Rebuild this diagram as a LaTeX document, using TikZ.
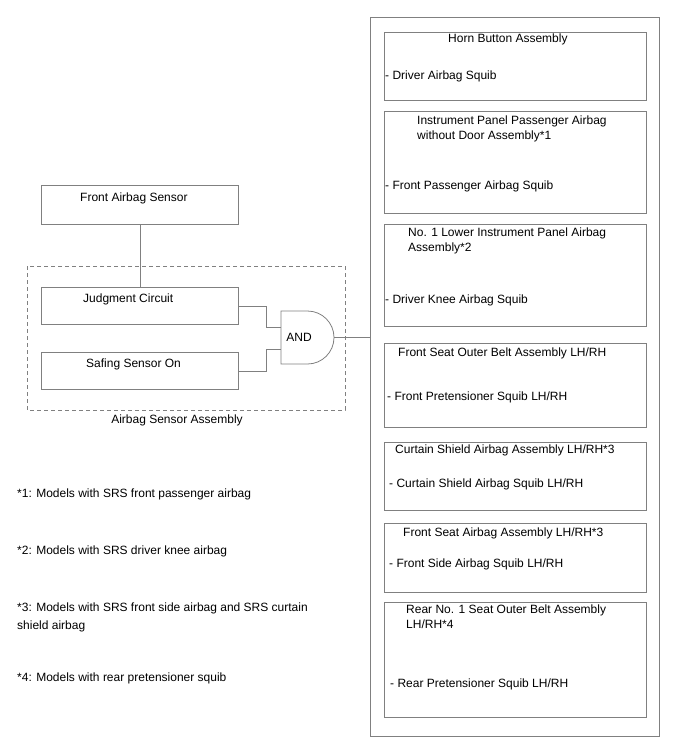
\documentclass[tikz,border=0pt]{standalone}
\usepackage{fontspec}
\setmainfont{Liberation Sans}
\usepackage{tikz}

\tikzset{
    box/.style={draw=gray, line width=0.8pt, anchor=north west, inner sep=0pt},
    wire/.style={draw=gray, line width=0.8pt},
    txt/.style={anchor=base west, inner sep=0pt, align=left, font=\fontsize{12}{15}\selectfont},
    note/.style={anchor=base west, inner sep=0pt, align=left, font=\fontsize{12}{18}\selectfont}
}

\begin{document}
\begin{tikzpicture}[x=1pt, y=-1pt]
    \useasboundingbox (0,0) rectangle (688,755);

    % Squib side
    \node[box, minimum width=289pt, minimum height=719pt] (squibs) at (370,17) {};

    \node[box, minimum width=262pt, minimum height=68pt] (horn) at (384,32) {};
    \node[txt] (horn title) at (448,42) {Horn Button Assembly};
    \node[txt] (horn squib) at (385,79) {- Driver Airbag Squib};

    \node[box, minimum width=262pt, minimum height=102pt] (pass) at (384,111) {};
    \node[txt] (pass title) at (417,139) {Instrument Panel Passenger Airbag\\without Door Assembly*1};
    \node[txt] (pass squib) at (385,189) {- Front Passenger Airbag Squib};

    \node[box, minimum width=262pt, minimum height=102pt] (knee) at (384,224) {};
    \node[txt] (knee title) at (408,251) {No. 1 Lower Instrument Panel Airbag\\Assembly*2};
    \node[txt] (knee squib) at (385,303) {- Driver Knee Airbag Squib};

    \node[box, minimum width=262pt, minimum height=84pt] (belt) at (384,343) {};
    \node[txt] (belt title) at (398,356) {Front Seat Outer Belt Assembly LH/RH};
    \node[txt] (belt squib) at (387,400) {- Front Pretensioner Squib LH/RH};

    \node[box, minimum width=262pt, minimum height=68pt] (curtain) at (384,442) {};
    \node[txt] (curtain title) at (395,453) {Curtain Shield Airbag Assembly LH/RH*3};
    \node[txt] (curtain squib) at (389,487) {- Curtain Shield Airbag Squib LH/RH};

    \node[box, minimum width=262pt, minimum height=69pt] (side) at (384,523) {};
    \node[txt] (side title) at (403,536) {Front Seat Airbag Assembly LH/RH*3};
    \node[txt] (side squib) at (389,567) {- Front Side Airbag Squib LH/RH};

    \node[box, minimum width=262pt, minimum height=115pt] (rear) at (384,602) {};
    \node[txt] (rear title) at (406,628) {Rear No. 1 Seat Outer Belt Assembly\\LH/RH*4};
    \node[txt] (rear squib) at (390,687) {- Rear Pretensioner Squib LH/RH};

    % Sensor side
    \node[box, minimum width=197pt, minimum height=39pt] (front) at (41,185) {};
    \node[txt] (front title) at (80,201) {Front Airbag Sensor};

    \draw[gray, line width=0.8pt, dash pattern=on 4pt off 3pt] (27,266) rectangle (345,410);
    \node[txt, anchor=base] (assy) at (177,423) {Airbag Sensor Assembly};

    \node[box, minimum width=197pt, minimum height=37pt] (judge) at (41,287) {};
    \node[txt] (judge title) at (83,302) {Judgment Circuit};

    \node[box, minimum width=197pt, minimum height=37pt] (safing) at (41,352) {};
    \node[txt] (safing title) at (86,367) {Safing Sensor On};

    % AND gate
    \draw[wire] (281,311) -- (307.5,311) arc (-90:90:26.5) -- (281,364) -- cycle;
    \node[txt, anchor=center] (and) at (299,337.5) {AND};
    \coordinate (and in1) at (281,327);
    \coordinate (and in2) at (281,349);
    \coordinate (and out) at (334,337.5);

    % Wires
    \draw[wire] (front.south) -- (judge.north);
    \draw[wire] (judge.east) -- ++(28,0) |- (and in1);
    \draw[wire] (safing.east) -- ++(28,0) |- (and in2);
    \draw[wire] (and out) -- (squibs.west |- and out);

    % Footnotes
    \node[note] (note1) at (17,497) {*1: Models with SRS front passenger airbag};
    \node[note] (note2) at (17,554) {*2: Models with SRS driver knee airbag};
    \node[note] (note3) at (17,629) {*3: Models with SRS front side airbag and SRS curtain\\shield airbag};
    \node[note] (note4) at (17,681) {*4: Models with rear pretensioner squib};
\end{tikzpicture}
\end{document}
